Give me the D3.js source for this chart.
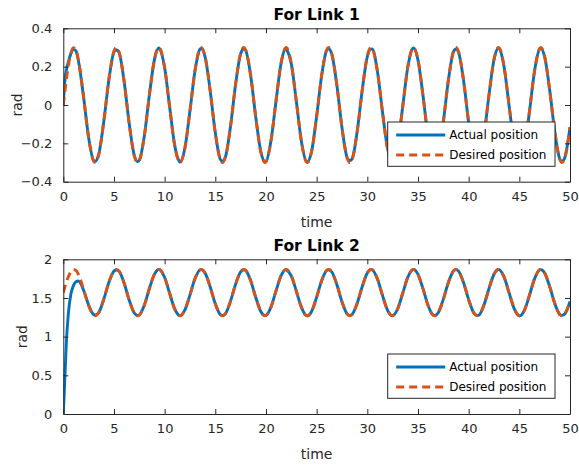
<!DOCTYPE html>
<html>
<head>
<meta charset="utf-8">
<script src="https://cdn.jsdelivr.net/npm/d3@7"></script>
<style>
  html, body { margin: 0; padding: 0; background: #fff; }
  svg { display: block; }
  text { font-family: "DejaVu Sans", sans-serif; }
</style>
</head>
<body>
<svg id="chart" width="579" height="466"></svg>
<script>
// ---------------- data ----------------
const time = [0, 0.1, 0.2, 0.3, 0.4, 0.5, 0.75, 1, 1.25, 1.5,
  2, 2.5, 3, 3.5, 4, 4.5, 5, 5.5, 6, 6.5, 7, 7.5, 8, 8.5, 9, 9.5, 10,
  10.5, 11, 11.5, 12, 12.5, 13, 13.5, 14, 14.5, 15, 15.5, 16, 16.5, 17, 17.5, 18,
  18.5, 19, 19.5, 20, 20.5, 21, 21.5, 22, 22.5, 23, 23.5, 24, 24.5, 25, 25.5, 26,
  26.5, 27, 27.5, 28, 28.5, 29, 29.5, 30, 30.5, 31, 31.5, 32, 32.5, 33, 33.5, 34,
  34.5, 35, 35.5, 36, 36.5, 37, 37.5, 38, 38.5, 39, 39.5, 40, 40.5, 41, 41.5, 42,
  42.5, 43, 43.5, 44, 44.5, 45, 45.5, 46, 46.5, 47, 47.5, 48, 48.5, 49, 49.5, 50];

const link1Desired = [0, 0.045, 0.089, 0.130, 0.169, 0.204, 0.271, 0.299, 0.286, 0.233,
  0.042, -0.171, -0.293, -0.258, -0.084, 0.135, 0.281, 0.277, 0.124, -0.096, -0.264,
  -0.290, -0.161, 0.055, 0.241, 0.298, 0.195, -0.013, -0.214, -0.300, -0.225, -0.030,
  0.182, 0.296, 0.251, 0.072, -0.146, -0.286, -0.272, -0.112, 0.108, 0.270, 0.287,
  0.150, -0.067, -0.248, -0.296, -0.185, 0.025, 0.222, 0.300, 0.217, 0.017, -0.192,
  -0.298, -0.244, -0.059, 0.157, 0.289, 0.266, 0.101, -0.119, -0.275, -0.283, -0.139,
  0.079, 0.255, 0.294, 0.175, -0.038, -0.230, -0.299, -0.209, -0.005, 0.201, 0.299,
  0.236, 0.047, -0.168, -0.292, -0.260, -0.088, 0.131, 0.280, 0.278, 0.128, -0.091,
  -0.261, -0.292, -0.165, 0.050, 0.238, 0.299, 0.199, -0.008, -0.210, -0.300, -0.229,
  -0.034, 0.178, 0.295, 0.253, 0.076, -0.142, -0.284, -0.274, -0.116];

const link1Actual = [0, 0.090, 0.150, 0.180, 0.205, 0.225, 0.268, 0.290, 0.282, 0.228,
  0.042, -0.170, -0.290, -0.256, -0.084, 0.132, 0.276, 0.273, 0.124, -0.095, -0.262,
  -0.288, -0.160, 0.055, 0.238, 0.294, 0.194, -0.013, -0.212, -0.297, -0.224, -0.030,
  0.180, 0.292, 0.249, 0.072, -0.145, -0.284, -0.270, -0.112, 0.107, 0.267, 0.284,
  0.149, -0.067, -0.246, -0.294, -0.184, 0.025, 0.220, 0.296, 0.215, 0.017, -0.191,
  -0.295, -0.242, -0.059, 0.156, 0.286, 0.264, 0.101, -0.118, -0.273, -0.281, -0.138,
  0.079, 0.252, 0.291, 0.174, -0.038, -0.228, -0.296, -0.208, -0.005, 0.199, 0.296,
  0.234, 0.047, -0.167, -0.290, -0.258, -0.088, 0.130, 0.277, 0.275, 0.127, -0.091,
  -0.259, -0.290, -0.164, 0.050, 0.236, 0.296, 0.197, -0.008, -0.209, -0.297, -0.227,
  -0.034, 0.176, 0.292, 0.251, 0.076, -0.141, -0.282, -0.272, -0.116];

const link2Desired = [1.570, 1.615, 1.659, 1.700, 1.739, 1.774, 1.841, 1.869, 1.856, 1.803,
  1.612, 1.399, 1.277, 1.312, 1.486, 1.705, 1.851, 1.847, 1.694, 1.474, 1.306, 1.280,
  1.409, 1.625, 1.811, 1.868, 1.765, 1.557, 1.356, 1.270, 1.345, 1.540, 1.752, 1.866,
  1.821, 1.642, 1.424, 1.284, 1.298, 1.458, 1.678, 1.840, 1.857, 1.720, 1.503, 1.322,
  1.274, 1.385, 1.595, 1.792, 1.870, 1.787, 1.587, 1.378, 1.272, 1.326, 1.511, 1.727,
  1.859, 1.836, 1.671, 1.451, 1.295, 1.287, 1.431, 1.649, 1.825, 1.864, 1.745, 1.532,
  1.340, 1.271, 1.361, 1.565, 1.771, 1.869, 1.806, 1.617, 1.402, 1.278, 1.310, 1.482,
  1.701, 1.850, 1.848, 1.698, 1.479, 1.309, 1.278, 1.405, 1.620, 1.808, 1.869, 1.769,
  1.562, 1.360, 1.270, 1.341, 1.536, 1.748, 1.865, 1.823, 1.646, 1.428, 1.286, 1.296, 1.454];

const link2Actual = [0, 0.300, 0.600, 0.920, 1.130, 1.300, 1.550, 1.660, 1.710, 1.720,
  1.600, 1.410, 1.285, 1.312, 1.486, 1.703, 1.848, 1.845, 1.694, 1.474, 1.306, 1.280,
  1.409, 1.625, 1.809, 1.866, 1.765, 1.557, 1.356, 1.270, 1.345, 1.540, 1.751, 1.864,
  1.821, 1.642, 1.424, 1.284, 1.298, 1.458, 1.677, 1.838, 1.856, 1.720, 1.503, 1.322,
  1.274, 1.385, 1.595, 1.791, 1.868, 1.787, 1.587, 1.378, 1.272, 1.326, 1.511, 1.726,
  1.857, 1.836, 1.671, 1.451, 1.295, 1.287, 1.431, 1.649, 1.824, 1.862, 1.745, 1.532,
  1.340, 1.271, 1.361, 1.565, 1.770, 1.867, 1.806, 1.617, 1.402, 1.278, 1.310, 1.482,
  1.700, 1.848, 1.847, 1.698, 1.479, 1.309, 1.278, 1.405, 1.620, 1.807, 1.867, 1.769,
  1.562, 1.360, 1.270, 1.341, 1.536, 1.747, 1.863, 1.823, 1.646, 1.428, 1.286, 1.296, 1.454];

// peaks and troughs
const extremaTime = [3.14, 5.24, 7.33, 9.42, 11.52, 13.61, 15.71, 17.80, 19.90, 21.99,
  24.09, 26.18, 28.27, 30.37, 32.46, 34.56, 36.65, 38.75, 40.84, 42.94, 45.03, 47.12, 49.22];
const link1DesiredExtrema = [-0.300, 0.300, -0.300, 0.300, -0.300, 0.300, -0.300, 0.300, -0.300, 0.300,
  -0.300, 0.300, -0.300, 0.300, -0.300, 0.300, -0.300, 0.300, -0.300, 0.300, -0.300, 0.300, -0.300];
const link1ActualExtrema = [-0.293, 0.287, -0.295, 0.297, -0.298, 0.295, -0.293, 0.292, -0.295, 0.297,
  -0.296, 0.293, -0.290, 0.292, -0.297, 0.297, -0.293, 0.292, -0.292, 0.297, -0.298, 0.295, -0.293];
const link2DesiredExtrema = [1.270, 1.870, 1.270, 1.870, 1.270, 1.870, 1.270, 1.870, 1.270, 1.870,
  1.270, 1.870, 1.270, 1.870, 1.270, 1.870, 1.270, 1.870, 1.270, 1.870, 1.270, 1.870, 1.270];
const link2ActualExtrema = [1.280, 1.862, 1.275, 1.868, 1.269, 1.866, 1.274, 1.865, 1.272, 1.869,
  1.271, 1.865, 1.274, 1.866, 1.270, 1.868, 1.275, 1.866, 1.274, 1.868, 1.269, 1.866, 1.275];

const xTicks = [0, 5, 10, 15, 20, 25, 30, 35, 40, 45, 50];
const yTicks1 = [-0.4, -0.2, 0, 0.2, 0.4];
const yTicks2 = [0, 0.5, 1, 1.5, 2];
const titles = ["For Link 1", "For Link 2"];
const seriesNames = ["Actual position", "Desired position"];
const xLabel = "time";
const yLabel = "rad";

// ---------------- drawing ----------------
const svg = d3.select("#chart");
const axisColor = "#262626";
const blue = "#0072BD", orange = "#D95319";

function buildSeries(values, extremaValues) {
  const pts = time.map((t, i) => ({ t, v: values[i] }))
    .concat(extremaTime.map((t, i) => ({ t, v: extremaValues[i] })));
  return pts.sort((a, b) => a.t - b.t);
}

const panels = [
  { top: 28.3, bottom: 181.7, domain: [-0.4, 0.4], ticks: yTicks1, fmt: d => d === 0 ? "0" : d3.format(".1f")(d),
    actual: buildSeries(link1Actual, link1ActualExtrema), desired: buildSeries(link1Desired, link1DesiredExtrema),
    title: titles[0], ylabX: 17, legendTop: 122 },
  { top: 259.3, bottom: 414, domain: [0, 2], ticks: yTicks2, fmt: d => String(d),
    actual: buildSeries(link2Actual, link2ActualExtrema), desired: buildSeries(link2Desired, link2DesiredExtrema),
    title: titles[1], ylabX: 22, legendTop: 354 }
];
const left = 63.3, right = 570;

panels.forEach((p, pi) => {
  const x = d3.scaleLinear().domain([0, 50]).range([left, right]);
  const y = d3.scaleLinear().domain(p.domain).range([p.bottom, p.top]);
  const g = svg.append("g");

  const clipId = "clip" + pi;
  svg.append("clipPath").attr("id", clipId).append("rect")
    .attr("x", left).attr("y", p.top - 2).attr("width", right - left).attr("height", p.bottom - p.top + 4);

  const line = d3.line().x(d => x(d.t)).y(d => y(d.v)).curve(d3.curveMonotoneX);

  g.append("path").datum(p.actual).attr("d", line).attr("clip-path", `url(#${clipId})`)
    .attr("fill", "none").attr("stroke", blue).attr("stroke-width", 2.9).attr("stroke-linejoin", "round");
  g.append("path").datum(p.desired).attr("d", line).attr("clip-path", `url(#${clipId})`)
    .attr("fill", "none").attr("stroke", orange).attr("stroke-width", 2.9)
    .attr("stroke-dasharray", "8,5");

  // axes
  const xb = d3.axisBottom(x).tickValues(xTicks).tickSizeInner(-5).tickSizeOuter(0).tickPadding(10).tickFormat(d3.format("d"));
  const xt = d3.axisTop(x).tickValues(xTicks).tickSizeInner(-5).tickSizeOuter(0).tickFormat("");
  const yl = d3.axisLeft(y).tickValues(p.ticks).tickSizeInner(-5).tickSizeOuter(0).tickPadding(11).tickFormat(p.fmt);
  const yr = d3.axisRight(y).tickValues(p.ticks).tickSizeInner(-5).tickSizeOuter(0).tickFormat("");

  const axes = [
    g.append("g").attr("transform", `translate(0,${p.bottom})`).call(xb),
    g.append("g").attr("transform", `translate(0,${p.top})`).call(xt),
    g.append("g").attr("transform", `translate(${left},0)`).call(yl),
    g.append("g").attr("transform", `translate(${right},0)`).call(yr)
  ];
  axes.forEach(a => {
    a.select(".domain").attr("stroke", axisColor).attr("stroke-width", 1);
    a.selectAll(".tick line").attr("stroke", axisColor).attr("stroke-width", 1);
    a.selectAll(".tick text").attr("fill", axisColor).style("font-size", "13px")
      .style("font-family", "'DejaVu Sans', sans-serif");
  });

  // title
  g.append("text").attr("x", (left + right) / 2).attr("y", p.top - 8)
    .attr("text-anchor", "middle").style("font-size", "15.5px").style("font-weight", "bold")
    .attr("fill", "#000").text(p.title);
  // x label
  g.append("text").attr("x", (left + right) / 2).attr("y", p.bottom + 45)
    .attr("text-anchor", "middle").style("font-size", "14px").attr("fill", axisColor).text(xLabel);
  // y label
  g.append("text").attr("transform", `translate(${p.ylabX},${(p.top + p.bottom) / 2}) rotate(-90)`)
    .attr("text-anchor", "middle").attr("dy", "0.35em").style("font-size", "14px").attr("fill", axisColor).text(yLabel);

  // legend
  const lx = 387.7, lw = 167.3, lh = 44.3, lt = p.legendTop;
  const lg = g.append("g");
  lg.append("rect").attr("x", lx).attr("y", lt).attr("width", lw).attr("height", lh)
    .attr("fill", "#fff").attr("stroke", axisColor).attr("stroke-width", 1);
  const rows = [{ name: seriesNames[0], color: blue, dash: null }, { name: seriesNames[1], color: orange, dash: "8,5" }];
  rows.forEach((r, i) => {
    const ry = lt + 13 + i * 20;
    lg.append("line").attr("x1", lx + 8.5).attr("x2", lx + 57.5).attr("y1", ry).attr("y2", ry)
      .attr("stroke", r.color).attr("stroke-width", 2.9).attr("stroke-dasharray", r.dash);
    lg.append("text").attr("x", lx + 61.5).attr("y", ry).attr("dy", "0.35em")
      .style("font-size", "12px").attr("fill", "#000").text(r.name);
  });
});
</script>
</body>
</html>
